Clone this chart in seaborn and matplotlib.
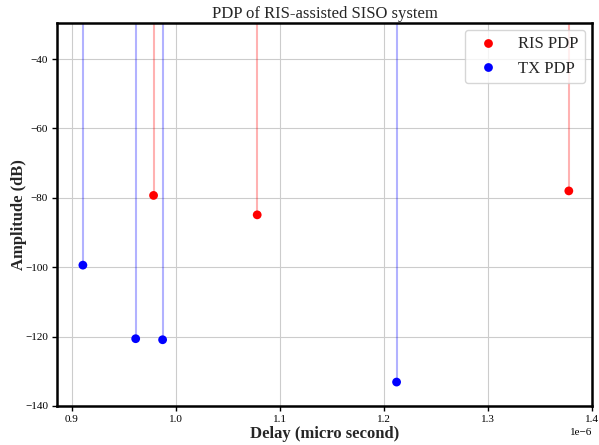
import matplotlib
matplotlib.use("Agg")
import matplotlib.pyplot as plt
import seaborn as sns
import numpy as np
import pandas as pd

ris_delay = [0.9785e-6, 1.0782e-6, 1.378e-6]
ris_amp = [-79.3, -84.9, -78.0]
tx_delay = [0.9105e-6, 0.9613e-6, 0.9872e-6, 1.2123e-6]
tx_amp = [-99.4, -120.6, -120.9, -133.1]

sns.set_theme(style="whitegrid")
plt.rcParams['font.family'] = ['Liberation Serif', 'DejaVu Serif']
plt.rcParams['axes.unicode_minus'] = True

fig, ax = plt.subplots(figsize=(5.99, 4.45), dpi=100)

ax.vlines(ris_delay, ris_amp, 0, colors="red", alpha=0.3, linewidth=1.5, zorder=2)
ax.vlines(tx_delay, tx_amp, 0, colors="blue", alpha=0.3, linewidth=1.5, zorder=2)

df = pd.concat([
    pd.DataFrame({"delay": ris_delay, "amp": ris_amp, "series": "RIS PDP"}),
    pd.DataFrame({"delay": tx_delay, "amp": tx_amp, "series": "TX PDP"}),
])
sns.scatterplot(data=df, x="delay", y="amp", hue="series",
                palette={"RIS PDP": "red", "TX PDP": "blue"},
                s=40, edgecolor="none", zorder=3, ax=ax)

ax.set_xlim(0.8856e-6, 1.4003e-6)
ax.set_ylim(-140, -29.6)
ax.set_yticks([-140, -120, -100, -80, -60, -40])

ax.set_title("PDP of RIS-assisted SISO system", fontsize=12, pad=3.5)
ax.set_xlabel("Delay (micro second)", fontsize=12, fontweight="bold")
ax.set_ylabel("Amplitude (dB)", fontsize=12, fontweight="bold")
ax.xaxis.set_label_coords(0.5, -0.052)
ax.yaxis.set_label_coords(-0.056, 0.5)
ax.tick_params(axis="both", labelsize=8, length=3.5, width=1, color="black",
               left=True, bottom=True, colors="black", pad=3)
ax.xaxis.get_offset_text().set_fontsize(8)

for sp in ax.spines.values():
    sp.set_color("black")
    sp.set_linewidth(1.8)
ax.grid(True, color="#cccccc", linewidth=0.8)

leg = ax.legend(loc="upper right", fontsize=12, title=None, frameon=True,
                markerscale=1.0, borderaxespad=0.4)

fig.subplots_adjust(left=57/599, right=592/599, top=1-23/445, bottom=1-406/445)
fig.savefig("out.png", dpi=100)
